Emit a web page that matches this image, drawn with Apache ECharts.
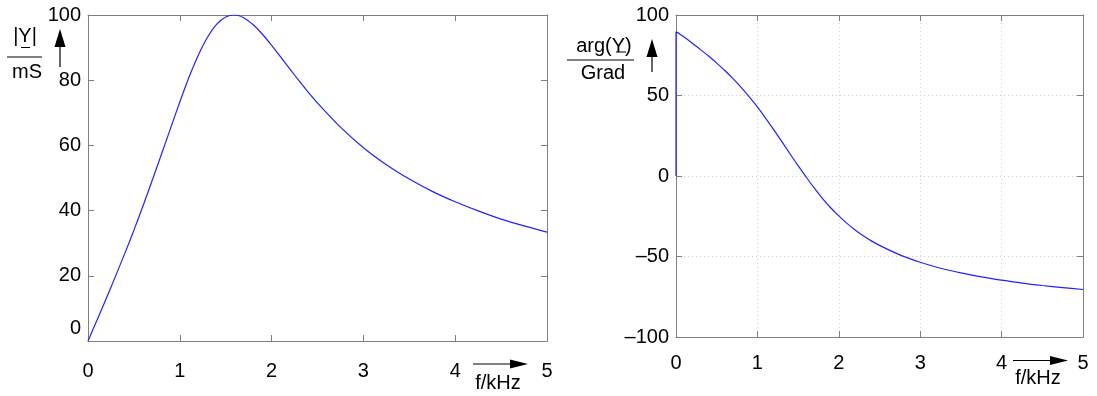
<!DOCTYPE html>
<html><head><meta charset="utf-8">
<script src="https://cdn.jsdelivr.net/npm/echarts@6/dist/echarts.min.js"></script>
<style>html,body{margin:0;padding:0;background:#fff}#c{width:1097px;height:396px}</style>
</head><body><div id="c"></div>
<script>
// frequency in kHz
const freq = [0, 0.05, 0.1, 0.2, 0.3, 0.4, 0.5, 0.6, 0.7, 0.8, 0.9, 1.0, 1.1, 1.2, 1.3, 1.4, 1.5, 1.6, 1.7, 1.8, 1.9, 2.0, 2.1, 2.2, 2.3, 2.4, 2.5, 2.75, 3.0, 3.25, 3.5, 3.75, 4.0, 4.25, 4.5, 4.75, 5.0];
// |Y| in mS
const magY = [0, 3.3, 6.5, 13.1, 19.9, 26.8, 34.0, 41.5, 49.3, 57.3, 65.3, 73.3, 80.9, 87.6, 93.1, 97.1, 99.4, 100, 99.1, 97.0, 94.1, 90.7, 87.1, 83.4, 79.8, 76.3, 73.0, 65.6, 59.3, 54.1, 49.7, 45.9, 42.7, 39.9, 37.4, 35.3, 33.4];
// arg(Y) in degrees; argY0 is the value drawn at f = 0 before the jump
const argY0 = 0;
const argY = [89.5, 88.1, 86.3, 82.5, 78.5, 74.5, 70.1, 65.5, 60.5, 55.1, 49.2, 42.9, 36.0, 28.8, 21.4, 13.8, 6.4, -0.7, -7.6, -14.0, -19.7, -24.8, -29.4, -33.5, -37.1, -40.3, -43.1, -49.0, -53.6, -57.3, -60.2, -62.7, -64.7, -66.5, -68.0, -69.3, -70.5];
const xTicks = [0, 1, 2, 3, 4, 5];
const magTicks = [0, 20, 40, 60, 80, 100];
const argTicks = [-100, -50, 0, 50, 100];

const magData = freq.map((f, i) => [f, magY[i]]);
const argData = [[0, argY0]].concat(freq.map((f, i) => [f, argY[i]]));

const FONT = '"Liberation Sans", Arial, Helvetica, sans-serif';
const AX = '#7f7f7f';
const fmtNum = v => (v < 0 ? '\u2013' + Math.abs(v) : String(v));

function xAx(gi, pos, labels, grid) {
  return {
    type: 'value', gridIndex: gi, position: pos, min: xTicks[0], max: xTicks[xTicks.length - 1], interval: 1,
    axisLine: { show: true, onZero: false, lineStyle: { color: AX, width: 1 } },
    axisTick: { show: true, inside: true, length: 6, lineStyle: { color: AX } },
    axisLabel: { show: labels, color: '#000', fontFamily: FONT, fontSize: 20, margin: gi === 0 ? 20 : 16 },
    splitLine: { show: grid, lineStyle: { color: '#cfcfcf', type: [1, 3] } }
  };
}
function yAx(gi, pos, labels, grid, ticks, lowShift) {
  return {
    type: 'value', gridIndex: gi, position: pos, min: ticks[0], max: ticks[ticks.length - 1],
    interval: ticks[1] - ticks[0],
    axisLine: { show: true, onZero: false, lineStyle: { color: AX, width: 1 } },
    axisTick: { show: true, inside: true, length: 6, lineStyle: { color: AX } },
    axisLabel: {
      show: labels, color: '#000', fontFamily: FONT, fontSize: 20, margin: 7,
      formatter: v => (lowShift && v === ticks[0]) ? '{lo|' + fmtNum(v) + '}' : fmtNum(v),
      rich: { lo: { fontFamily: FONT, fontSize: 20, color: '#000', padding: [0, 0, 26, 0] } }
    },
    splitLine: { show: grid, lineStyle: { color: '#cfcfcf', type: [1, 3] } }
  };
}

const txt = (x, y, s) => ({ type: 'text', x: x, y: y, style: { text: s, fontFamily: FONT, fontSize: 20, fill: '#000', align: 'center', verticalAlign: 'middle' } });
const ln = (x1, y1, x2, y2, w) => ({ type: 'line', shape: { x1, y1, x2, y2 }, style: { stroke: '#000', lineWidth: w || 1 } });
const tri = pts => ({ type: 'polygon', shape: { points: pts }, style: { fill: '#000' } });

const chart = echarts.init(document.getElementById('c'), null, { renderer: 'canvas' });
chart.setOption({
  animation: false,
  backgroundColor: '#fff',
  grid: [
    { left: 88, top: 15, width: 459, height: 326 },
    { left: 676, top: 15, width: 407, height: 322 }
  ],
  xAxis: [xAx(0, 'bottom', true, false), xAx(0, 'top', false, false), xAx(1, 'bottom', true, true), xAx(1, 'top', false, false)],
  yAxis: [yAx(0, 'left', true, false, magTicks, true), yAx(0, 'right', false, false, magTicks, false),
          yAx(1, 'left', true, true, argTicks, false), yAx(1, 'right', false, false, argTicks, false)],
  series: [
    { type: 'line', xAxisIndex: 0, yAxisIndex: 0, data: magData, showSymbol: false, smooth: 0.3, lineStyle: { color: '#2222ff', width: 1.2 } },
    { type: 'line', xAxisIndex: 2, yAxisIndex: 2, data: argData, showSymbol: false, smooth: 0.3, lineStyle: { color: '#2222ff', width: 1.2 } }
  ],
  graphic: [
    // left y label
    txt(25, 36, '|Y|'),
    ln(21, 47.5, 30, 47.5, 1),
    ln(7, 57, 42, 57, 1),
    txt(27, 72, 'mS'),
    ln(60, 45, 60, 67, 1.2),
    tri([[60, 29], [54.5, 47], [65.5, 47]]),
    // right y label
    txt(604, 46, 'arg(Y)'),
    ln(616, 52, 626, 52, 1),
    ln(567, 60, 634, 60, 1),
    txt(603, 73, 'Grad'),
    ln(652, 55, 652, 72, 1.2),
    tri([[652, 39], [646.5, 57], [657.5, 57]]),
    // left x label
    ln(473, 364, 512, 364, 1.2),
    tri([[528, 364], [510, 359.5], [510, 368.5]]),
    txt(498, 383, 'f/kHz'),
    // right x label
    ln(1013, 360.5, 1052, 360.5, 1.2),
    tri([[1068, 360.5], [1050, 356], [1050, 365]]),
    txt(1038, 378, 'f/kHz')
  ]
});
</script></body></html>
